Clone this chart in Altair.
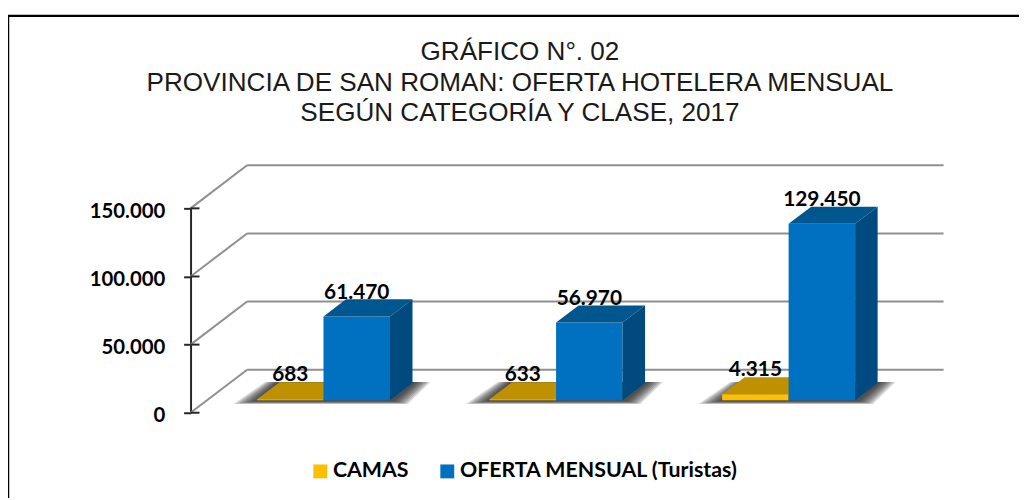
import altair as alt
import pandas as pd

SERIES = ["CAMAS", "OFERTA MENSUAL (Turistas)"]
CAMAS = [683, 633, 4315]
OFERTA = [61470, 56970, 129450]
TICKS = [0, 50000, 100000, 150000]
TITLE = ["GRÁFICO N°. 02",
         "PROVINCIA DE SAN ROMAN: OFERTA HOTELERA MENSUAL",
         "SEGÚN CATEGORÍA Y CLASE, 2017"]

# geometry of the fake 3D projection (pixels converted to scale units)
W, H = 830, 206
STEP = 234.4
XU = 1 / STEP                # x units per pixel
YU = 150000 / H              # y units per pixel
FIRST = 134.0 * XU           # camas/oferta boundary of first group from the axis
BARW = 67 * XU
LIFT = 12.7 * YU             # floor rise of the bars over the axis origin
DX, DY = 22.7 * XU, 17.2 * YU   # bar depth
WX, WY = 57 * XU, 43.4 * YU     # wall depth
WALL_END = 759 * XU
# soft shadow rings, in pixels of spread: left, right, below
RINGS = [(24, 18, 4), (21, 16, 3.6), (18, 14, 3.2), (15, 12, 2.8), (12, 10, 2.4), (9, 8, 2), (6, 6, 1.6), (3, 4, 1.2)]


def lab(v):
    return f"{v:,}".replace(",", ".")


fronts, sides, tops, labels, shadows = [], [], [], [], []
for g in range(3):
    b = FIRST + g
    for name, val, x0 in [(SERIES[0], CAMAS[g], b - BARW), (SERIES[1], OFERTA[g], b)]:
        x1 = x0 + BARW
        y0, y1 = LIFT, LIFT + val
        fronts.append(dict(s=name, x=x0, x2=x1, y=y0, y2=y1))
        tops.append((name, [dict(y=y1, x=x0, x2=x1), dict(y=y1 + DY, x=x0 + DX, x2=x1 + DX)]))
        if name == SERIES[1]:
            sides.append([dict(x=x1, y=y0, y2=y1), dict(x=x1 + DX, y=y0 + DY, y2=y1 + DY)])
        labels.append(dict(x=(x0 + x1) / 2, y=y1 + 18 * YU, t=lab(val)))
    for l, r, v in RINGS:
        x0, x1 = b - BARW, b + BARW
        shadows.append([dict(y=LIFT - v * YU, x=x0 - l * XU, x2=x1 + r * XU),
                        dict(y=LIFT + DY + YU, x=x0 + DX - l * 0.6 * XU, x2=x1 + DX + r * XU)])

walls = []
diagonals = []
for t in TICKS:
    walls.append(dict(x=WX, x2=WALL_END, y=t + WY))
    diagonals.append(dict(x=0, x2=WX, y=t, y2=t + WY))

xs = alt.Scale(domain=[0, W * XU], range=[0, W], nice=False, zero=False)
ys = alt.Scale(domain=[0, 150000], range=[H, 0], nice=False, zero=False)
X = lambda f="x": alt.X(f"{f}:Q", scale=xs, axis=None)
Y = lambda f="y": alt.Y(f"{f}:Q", scale=ys, axis=None)
GRID = "#8f8f8f"
FONT = "Lato"

df = lambda rows: alt.Data(values=rows)


def hpoly(rows, **kw):
    return alt.Chart(df(rows)).mark_area(orient="horizontal", **kw).encode(y=Y(), x=X(), x2="x2:Q")


def vpoly(rows, **kw):
    return alt.Chart(df(rows)).mark_area(orient="vertical", **kw).encode(x=X(), y=Y(), y2="y2:Q")


wall_l = alt.Chart(df(walls)).mark_rule(color=GRID, strokeWidth=2).encode(x=X(), x2="x2:Q", y=Y())
diag_l = alt.Chart(df(diagonals)).mark_rule(color=GRID, strokeWidth=2).encode(x=X(), x2="x2:Q", y=Y(), y2="y2:Q")

axis_l = alt.Chart(pd.DataFrame({"y": TICKS})).mark_rule(color="#262626", strokeWidth=2).encode(
    y=alt.Y("y:Q", scale=ys, title=None, axis=alt.Axis(
        values=TICKS, tickSize=7, tickWidth=2, tickColor="#262626", domainColor="#262626", domainWidth=2,
        labelFont=FONT, labelFontWeight="bold", labelFontSize=20.5, labelColor="black", labelPadding=19,
        labelOffset=3, grid=False,
        labelExpr="replace(format(datum.value, ',d'), ',', '.')")),
    x=alt.value(0), x2=alt.value(9))

shadow_ls = [hpoly(p, color="#1a1a1a", opacity=0.16) for p in shadows]
top_c = [hpoly(p, color="#BF9000") for n, p in tops if n == SERIES[0]]
top_o = [hpoly(p, color="#00568F") for n, p in tops if n == SERIES[1]]
side_o = [vpoly(p, color="#004A80") for p in sides]

front = alt.Chart(df(fronts)).mark_rect().encode(
    x=X(), x2="x2:Q", y=Y(), y2="y2:Q",
    color=alt.Color("s:N", scale=alt.Scale(domain=SERIES, range=["#FFC000", "#0070C0"]),
                    legend=alt.Legend(title=None, orient="none", legendX=120, legendY=254,
                                      direction="horizontal", columns=2, symbolType="square", symbolSize=196,
                                      symbolStrokeWidth=0, symbolOpacity=1, columnPadding=28, labelOffset=2,
                                      labelFont=FONT, labelFontWeight="bold", labelFontSize=21.5,
                                      labelColor="black", labelLimit=400)))

text_l = alt.Chart(df(labels)).mark_text(font=FONT, fontWeight="bold", fontSize=21, color="black",
                                         baseline="alphabetic", align="center").encode(x=X(), y=Y(), text="t:N")

frame_top = alt.Chart(df([{"a": 1}])).mark_rule(color="black", strokeWidth=2.5).encode(
    x=alt.value(-184), x2=alt.value(838), y=alt.value(-194))
frame_left = alt.Chart(df([{"a": 1}])).mark_rule(color="black", strokeWidth=2.5).encode(
    x=alt.value(-184), y=alt.value(-194), y2=alt.value(292))

chart = alt.layer(frame_top, frame_left, wall_l, diag_l, axis_l, *shadow_ls, *top_c, front, *top_o, *side_o, text_l).resolve_axis(
    y="independent"
).properties(
    width=W, height=H,
    background="white",
    autosize=alt.AutoSizeParams(type="none"),
    padding={"left": 184, "top": 200, "right": 5, "bottom": 86},
    title=alt.TitleParams(text=TITLE, font="Liberation Sans", fontSize=26.3, fontWeight="normal", color="#1a1a1a",
                          lineHeight=31, anchor="middle", frame="bounds", dx=5, dy=134, offset=0, baseline="alphabetic"),
).configure_view(stroke="transparent", strokeWidth=0)

chart.save("out.html", embed_options={"renderer": "svg", "actions": False})
